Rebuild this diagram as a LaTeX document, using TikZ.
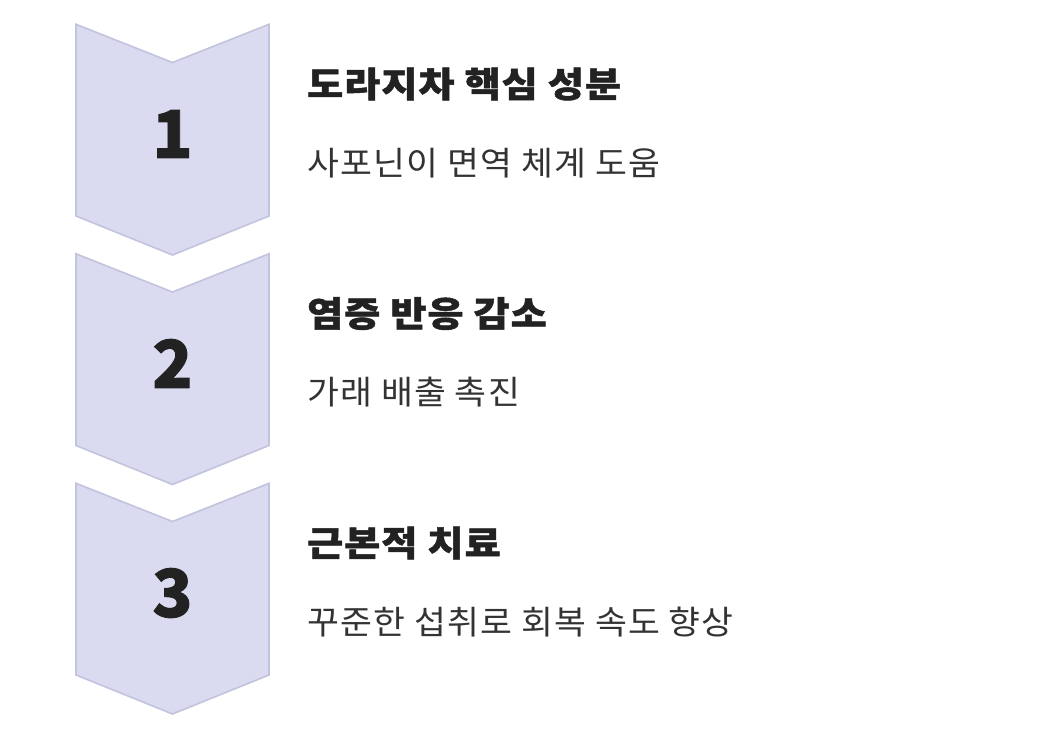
\documentclass[tikz,border=0pt]{standalone}
\usepackage{fontspec}
\newfontfamily\titlefont{Noto Sans CJK KR Black}[FakeStretch=1.12, LetterSpace=3, FakeBold=1.4]
\newfontfamily\bodyfont{Noto Sans CJK KR}[FakeStretch=1.05, LetterSpace=3.6]
\newfontfamily\numfont{Noto Sans CJK KR Black}[FakeBold=1.4]
\definecolor{chevfill}{HTML}{DADBF0}
\definecolor{chevline}{HTML}{C2C3DD}
\definecolor{txtdark}{HTML}{222222}
\definecolor{txtbody}{HTML}{333333}
\tikzset{
  chev/.style={fill=chevfill, draw=chevline, line width=1.6pt, line join=miter},
  numtext/.style={font=\numfont\fontsize{66}{66}\selectfont, text=txtdark, inner sep=0pt},
  titletext/.style={font=\titlefont\fontsize{35}{35}\selectfont, text=txtdark, inner sep=0pt, anchor=west},
  bodytext/.style={font=\bodyfont\fontsize{33}{33}\selectfont, text=txtbody, inner sep=0pt, anchor=west}
}
\begin{document}
\begin{tikzpicture}[x=1pt,y=-1pt]
\useasboundingbox (0,0) rectangle (1056,732);
\foreach \i/\y in {1/24.3, 2/253.8, 3/483.3}{
  \draw[chev] (76,\y) -- (172.5,\y+38.2) -- (269,\y) -- (269,\y+191.7) -- (172.5,\y+230.7) -- (76,\y+191.7) -- cycle;
}
\node[numtext] (n1) at (172.5,134) {1};
\node[numtext] (n2) at (172.5,363.5) {2};
\node[numtext] (n3) at (172.5,593) {3};
\node[titletext] (t1) at (307,84) {도라지차 핵심 성분};
\node[bodytext] (s1) at (307,163) {사포닌이 면역 체계 도움};
\node[titletext] (t2) at (307,313.5) {염증 반응 감소};
\node[bodytext] (s2) at (307,392.5) {가래 배출 촉진};
\node[titletext] (t3) at (307,543) {근본적 치료};
\node[bodytext] (s3) at (307,622) {꾸준한 섭취로 회복 속도 향상};
\end{tikzpicture}
\end{document}
